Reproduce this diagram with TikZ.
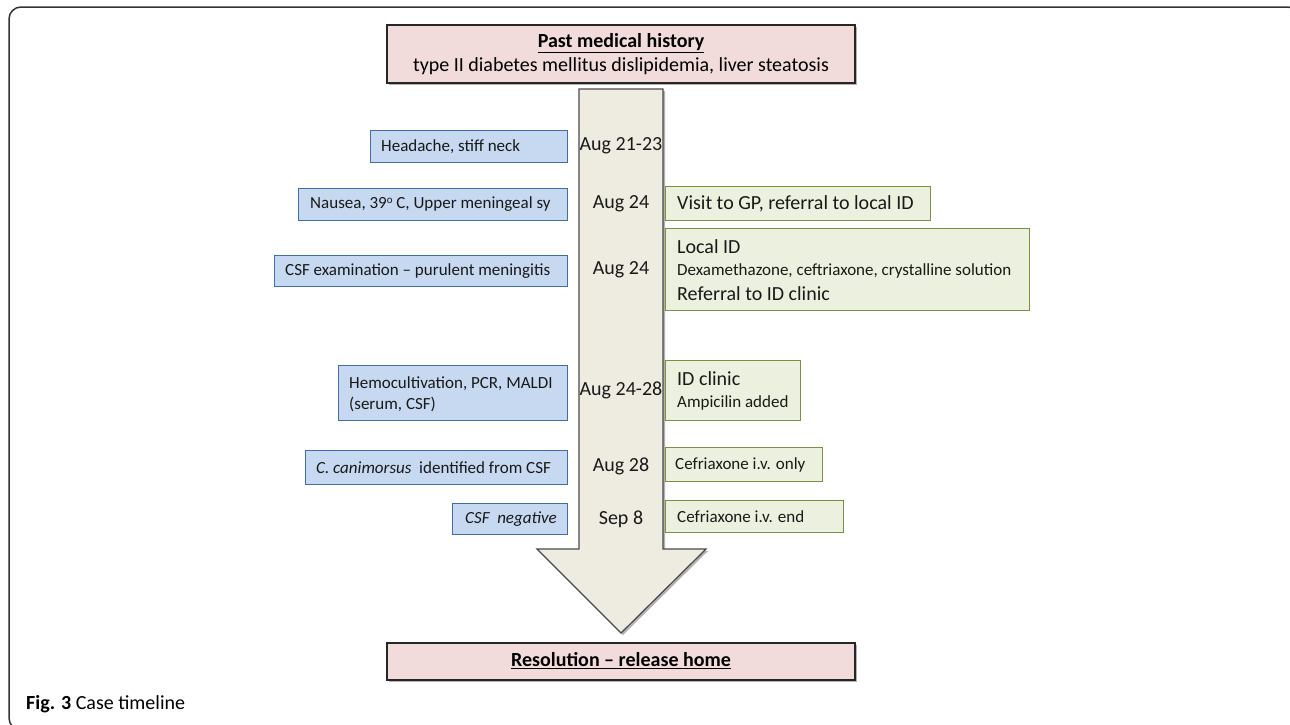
\documentclass[tikz,border=0pt]{standalone}
\usepackage{fontspec}
\setmainfont{Carlito}
\definecolor{pinkf}{HTML}{F2DCDB}
\definecolor{bluef}{HTML}{C6D9F1}
\definecolor{blued}{HTML}{3F6EA8}
\definecolor{greenf}{HTML}{EBF1DE}
\definecolor{greend}{HTML}{77933C}
\definecolor{arrowf}{HTML}{EEECE1}
\definecolor{arrowd}{HTML}{4A4A4A}
\newcommand{\fdate}{\fontsize{20}{24}\selectfont}
\newcommand{\fbig}{\fontsize{20}{24}\selectfont}
\newcommand{\fmid}{\fontsize{17}{21}\selectfont}
\newcommand{\fsml}{\fontsize{17}{20}\selectfont}
\newcommand{\fcap}{\fontsize{20}{24}\selectfont}
\begin{document}
\begin{tikzpicture}[x=1pt,y=-1pt,
  box/.style={draw, line width=1pt, inner sep=0pt, anchor=north west},
  bluebox/.style={box, fill=bluef, draw=blued},
  greenbox/.style={box, fill=greenf, draw=greend},
  pinkbox/.style={draw=black!85, line width=1.2pt, fill=pinkf, inner sep=0pt},
  txt/.style={inner sep=0pt, anchor=west, text=black!90},
  datetxt/.style={inner sep=0pt, font=\fdate, text=black!90},
  arrowshape/.style={draw=arrowd, line width=1.2pt, fill=arrowf, line join=miter},
  shade/.style={fill=black!30, draw=none}
]
\useasboundingbox (0,0) rectangle (1290,724);
% outer frame
\draw[rounded corners=12pt, line width=1.5pt, black!80] (9,730) rectangle (1300,7);

% top box
\fill[shade] (389,27) rectangle (857,85);
\node[pinkbox, minimum width=468pt, minimum height=58pt] (top) at (621,54) {};
\node[inner sep=0pt, font=\fbig\bfseries] (toph) at (621,43) {\underline{Past medical history}};
\node[inner sep=0pt, font=\fbig] (topt) at (621,66) {type II diabetes mellitus dislipidemia, liver steatosis};

% arrow
\fill[shade] (581,91) -- (665,91) -- (665,551) -- (708,551) -- (623,635) -- (539,551) -- (581,551) -- cycle;
\draw[arrowshape] (579,89) -- (663,89) -- (663,549) -- (706,549) -- (621,633) -- (537,549) -- (579,549) -- cycle;
\coordinate (tip) at (621,633);

% bottom box
\fill[shade] (389,645) rectangle (857,682);
\node[pinkbox, minimum width=468pt, minimum height=37pt] (bot) at (621,661.5) {};
\node[inner sep=0pt, font=\fbig\bfseries] (bott) at (621,661) {\underline{Resolution -- release home}};

% dates
\node[datetxt] (d1) at (621,146) {Aug 21-23};
\node[datetxt] (d2) at (621,204) {Aug 24};
\node[datetxt] (d3) at (621,270) {Aug 24};
\node[datetxt] (d4) at (621,390) {Aug 24-28};
\node[datetxt] (d5) at (621,466) {Aug 28};
\node[datetxt] (d6) at (621,519) {Sep 8};

% blue boxes
\node[bluebox, minimum width=197pt, minimum height=32pt] (b1) at (370,130) {};
\node[txt, font=\fmid] (b1t) at ([xshift=11pt]b1.west) {Headache, stiff neck};
\node[bluebox, minimum width=269pt, minimum height=32pt] (b2) at (298,188) {};
\node[txt, font=\fmid] (b2t) at ([xshift=12pt]b2.west) {Nausea, 39{\fontsize{11}{12}\selectfont\raisebox{5pt}{o}} C, Upper meningeal sy};
\node[bluebox, minimum width=293pt, minimum height=31pt] (b3) at (274,255) {};
\node[txt, font=\fmid] (b3t) at ([xshift=11pt]b3.west) {CSF examination -- purulent meningitis};
\node[bluebox, minimum width=229pt, minimum height=55pt] (b4) at (338,365) {};
\node[txt, font=\fmid, align=left] (b4t) at ([xshift=11pt,yshift=-1pt]b4.west) {Hemocultivation, PCR, MALDI\\(serum, CSF)};
\node[bluebox, minimum width=262pt, minimum height=34pt] (b5) at (305,450) {};
\node[txt, font=\fmid] (b5t) at ([xshift=11pt]b5.west) {\textit{C. canimorsus}\ \ identified from CSF};
\node[bluebox, minimum width=115pt, minimum height=31pt] (b6) at (452,503) {};
\node[txt, font=\fmid] (b6t) at ([xshift=13pt]b6.west) {\textit{CSF\ \ negative}};

% green boxes
\node[greenbox, minimum width=265pt, minimum height=34pt] (g1) at (665,186) {};
\node[txt, font=\fbig] (g1t) at ([xshift=12pt]g1.west) {Visit to GP, referral to local ID};
\node[greenbox, minimum width=364pt, minimum height=82pt] (g2) at (665,228) {};
\node[txt, font=\fbig] (g2a) at (677,247) {Local ID};
\node[txt, font=\fsml] (g2b) at (677,271) {Dexamethazone, ceftriaxone, crystalline solution};
\node[txt, font=\fbig] (g2c) at (677,294) {Referral to ID clinic};
\node[greenbox, minimum width=135pt, minimum height=60pt] (g3) at (665,360) {};
\node[txt, font=\fbig] (g3a) at (677,379) {ID clinic};
\node[txt, font=\fsml] (g3b) at (677,403) {Ampicilin added};
\node[greenbox, minimum width=157pt, minimum height=34pt] (g4) at (665,447) {};
\node[txt, font=\fmid] (g4t) at ([xshift=10pt]g4.west) {Cefriaxone i.v. only};
\node[greenbox, minimum width=178pt, minimum height=32pt] (g5) at (665,500) {};
\node[txt, font=\fmid] (g5t) at ([xshift=12pt]g5.west) {Cefriaxone i.v. end};

% caption
\node[inner sep=0pt, anchor=base west, font=\fcap] (cap) at (26,709) {\textbf{Fig. 3} Case timeline};
\end{tikzpicture}
\end{document}
